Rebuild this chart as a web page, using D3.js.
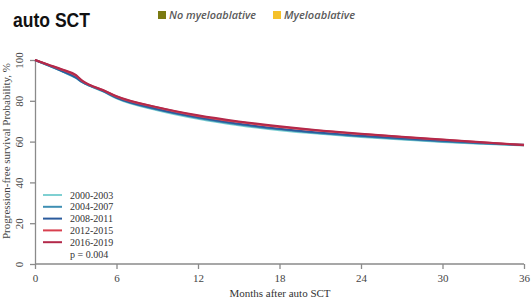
<!DOCTYPE html>
<html lang="en">
<head>
<meta charset="UTF-8">
<title>Progression-free survival, auto SCT</title>
<script src="https://d3js.org/d3.v7.min.js"></script>
<style>
    body { margin: 0; background: #fff; }
    .axis text { font-family: "Liberation Serif", "DejaVu Serif", serif; font-size: 11px; fill: #444; }
    .axis path, .axis line { stroke: #8a8a8a; stroke-width: 1.3px; }
    .curve { fill: none; stroke-width: 2px; stroke-linejoin: round; }
    .legend text { font-family: "Liberation Serif", serif; font-size: 10px; fill: #333; }
</style>
</head>
<body>
<svg id="chart"></svg>
<script>
// months on the x axis where each curve was read
const months = [0, 1, 2, 3, 3.5, 4, 5, 6, 9, 12, 15, 18, 21, 24, 27, 30, 33, 36];

const periods = ["2000-2003", "2004-2007", "2008-2011", "2012-2015", "2016-2019"];
const colors = ["#7fd0d2", "#3f8fb3", "#2b5b9d", "#d8404f", "#b3294a"];

// survival % per period (same order as months)
const pfs2000 = [100, 97.3, 94.4, 91.2, 89.0, 87.4, 84.6, 81.2, 75.4, 71.2, 68.0, 65.6, 63.8, 62.3, 61.0, 59.8, 58.9, 58.1];
const pfs2004 = [100, 97.3, 94.5, 91.3, 89.1, 87.5, 84.7, 81.4, 75.7, 71.6, 68.4, 66.0, 64.1, 62.6, 61.3, 60.1, 59.1, 58.3];
const pfs2008 = [100, 97.4, 94.6, 91.5, 89.2, 87.6, 84.9, 81.6, 76.0, 71.9, 68.7, 66.3, 64.4, 62.9, 61.6, 60.4, 59.3, 58.4];
const pfs2012 = [100, 97.6, 95.2, 92.4, 89.6, 87.8, 85.2, 82.1, 76.7, 72.6, 69.6, 67.2, 65.3, 63.7, 62.2, 60.9, 59.6, 58.4];
const pfs2016 = [100, 97.7, 95.4, 92.7, 89.8, 87.9, 85.3, 82.3, 76.9, 72.9, 69.9, 67.5, 65.5, 63.9, 62.4, 61.0, 59.7, 58.2];
const series = [pfs2000, pfs2004, pfs2008, pfs2012, pfs2016];

const xTicks = [0, 6, 12, 18, 24, 30, 36];
const yTicks = [0, 20, 40, 60, 80, 100];
const pValue = "p =  0.004";

const headerItems = ["No myeloablative", "Myeloablative"];
const headerColors = ["#7a7a12", "#f5c12a"];

const W = 531, H = 301;
const svg = d3.select("#chart").attr("width", W).attr("height", H);

const x = d3.scaleLinear().domain([0, 36]).range([35, 524]);
const y = d3.scaleLinear().domain([0, 100]).range([264, 60]);

// title + header legend
svg.append("text")
    .attr("x", 13).attr("y", 27)
    .attr("font-family", "Liberation Sans, Arial, sans-serif")
    .attr("font-weight", "bold")
    .attr("font-size", "21px")
    .attr("fill", "#111")
    .attr("textLength", 77)
    .attr("lengthAdjust", "spacingAndGlyphs")
    .text("auto SCT");

const headerX = [158, 273];
const headerLen = [87, 71];
headerItems.forEach((name, i) => {
    svg.append("rect")
        .attr("x", headerX[i]).attr("y", 11)
        .attr("width", 8).attr("height", 8)
        .attr("fill", headerColors[i]);
    svg.append("text")
        .attr("x", headerX[i] + 11).attr("y", 19)
        .attr("font-family", "Open Sans, sans-serif")
        .attr("font-style", "italic")
        .attr("font-weight", "600")
        .attr("font-size", "10.5px")
        .attr("fill", "#5a5a5a")
        .attr("textLength", headerLen[i])
        .attr("lengthAdjust", "spacingAndGlyphs")
        .text(name);
});

// axes
const xAxis = svg.append("g")
    .attr("class", "axis")
    .attr("transform", "translate(0,264)")
    .call(d3.axisBottom(x).tickValues(xTicks).tickSize(5).tickPadding(5).tickSizeOuter(0));
xAxis.select(".domain").attr("d", "M" + x(0) + ",0H" + x(36));

const yAxis = svg.append("g")
    .attr("class", "axis")
    .attr("transform", "translate(35,0)")
    .call(d3.axisLeft(y).tickValues(yTicks).tickSize(5).tickPadding(5).tickSizeOuter(0));
yAxis.selectAll(".tick text")
    .attr("x", 0)
    .attr("dy", 0)
    .attr("text-anchor", "middle")
    .attr("transform", "translate(-12,0) rotate(-90)");

svg.append("text")
    .attr("x", 280).attr("y", 297)
    .attr("text-anchor", "middle")
    .attr("font-family", "Liberation Serif, serif")
    .attr("font-size", "11px")
    .attr("fill", "#333")
    .text("Months after auto SCT");

svg.append("text")
    .attr("transform", "translate(10,151) rotate(-90)")
    .attr("text-anchor", "middle")
    .attr("font-family", "Liberation Serif, serif")
    .attr("font-size", "11px")
    .attr("fill", "#444")
    .attr("textLength", 176)
    .attr("lengthAdjust", "spacingAndGlyphs")
    .text("Progression-free survival Probability, %");

// curves
const line = d3.line()
    .x((d, i) => x(months[i]))
    .y(d => y(d))
    .curve(d3.curveMonotoneX);

series.forEach((vals, i) => {
    svg.append("path")
        .datum(vals)
        .attr("class", "curve")
        .attr("stroke", colors[i])
        .attr("d", line);
});

// inner legend
const legend = svg.append("g").attr("class", "legend");
periods.forEach((p, i) => {
    const ly = 195 + i * 11.8;
    legend.append("line")
        .attr("x1", 43).attr("x2", 62)
        .attr("y1", ly).attr("y2", ly)
        .attr("stroke", colors[i]).attr("stroke-width", 2);
    legend.append("text")
        .attr("x", 70).attr("y", ly + 3.5)
        .text(p);
});
legend.append("text")
    .attr("x", 70).attr("y", 195 + 5 * 11.8 + 3.5)
    .text(pValue);
</script>
</body>
</html>
